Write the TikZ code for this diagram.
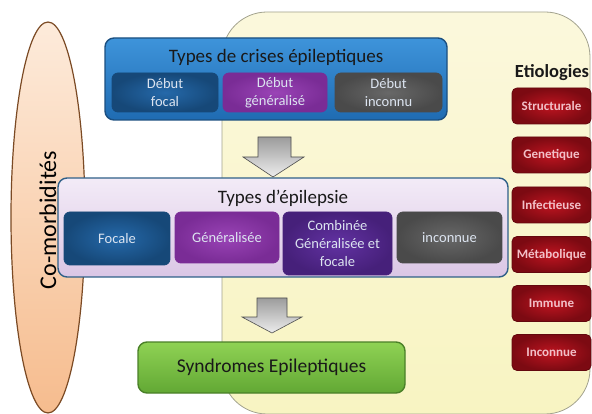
\documentclass[tikz,border=0pt]{standalone}
\usepackage{fontspec}
\setmainfont{Carlito}
\usetikzlibrary{shapes.geometric}
\definecolor{ybg}{HTML}{F8F4C2}
\definecolor{ybgtop}{HTML}{FBF8DC}
\definecolor{yborder}{HTML}{A2A28E}
\definecolor{peachtop}{HTML}{FDEBDB}
\definecolor{peachmid}{HTML}{F4AE78}
\definecolor{peachbot}{HTML}{F6BC8E}
\definecolor{brownb}{HTML}{7B4A24}
\definecolor{bluetop}{HTML}{3E94DA}
\definecolor{bluebot}{HTML}{1F6BB2}
\definecolor{blueborder}{HTML}{1B4F80}
\definecolor{lavtop}{HTML}{F3EBF7}
\definecolor{lavbot}{HTML}{DAC6E5}
\definecolor{lavborder}{HTML}{2F6088}
\definecolor{greentop}{HTML}{8FD254}
\definecolor{greenbot}{HTML}{62A834}
\definecolor{greenborder}{HTML}{4A8028}
\definecolor{dbluein}{HTML}{2569AA}
\definecolor{dblueout}{HTML}{164878}
\definecolor{purpin}{HTML}{9A44B6}
\definecolor{purpout}{HTML}{7A2C96}
\definecolor{dpurpin}{HTML}{6232A2}
\definecolor{dpurpout}{HTML}{46207A}
\definecolor{greyin}{HTML}{686868}
\definecolor{greyout}{HTML}{4A4A4A}
\definecolor{redin}{HTML}{BE1420}
\definecolor{redout}{HTML}{7C0A12}
\definecolor{subtext}{HTML}{DCE4F0}
\definecolor{etiotext}{HTML}{F2C0C8}
\definecolor{arrowtop}{HTML}{9C9C9C}
\definecolor{arrowbot}{HTML}{EDEDED}
\tikzset{
  bigbox/.style={rounded corners=9pt, line width=1.4pt, inner sep=0pt},
  subbox/.style 2 args={rounded corners=6pt, draw=#2, line width=0.8pt,
    inner color=#1, outer color=#2, text=subtext, align=center, inner sep=0pt,
    font=\fontsize{14.5}{18}\selectfont},
  etio/.style={rounded corners=5pt, draw=redout!80!black, line width=0.8pt,
    inner color=redin, outer color=redout, text=etiotext,
    minimum width=79pt, minimum height=36pt, inner sep=0pt,
    font=\bfseries\fontsize{13}{15}\selectfont},
  title/.style={text=black!90, font=\fontsize{19}{22}\selectfont, inner sep=0pt},
  blockarrow/.style={draw=gray!60!black, line width=0.6pt, top color=arrowtop, bottom color=arrowbot}
}
\begin{document}
\begin{tikzpicture}[x=1pt,y=-1pt]
\useasboundingbox (0,0) rectangle (592,414);
% yellow background region
\draw[yborder, line width=0.8pt, rounded corners=45pt, top color=ybgtop, bottom color=ybg]
  (222,12) rectangle (590,414);
% co-morbidites ellipse
\node[ellipse, draw=brownb, line width=1.2pt, top color=peachtop, middle color=peachmid,
  bottom color=peachbot, minimum width=74pt, minimum height=391pt, inner sep=0pt] (como) at (48,217.5) {};
\node[rotate=90, font=\fontsize{24}{28}\selectfont, text=black, inner sep=0pt] (comotxt) at (48,220) {Co-morbidités};
% seizure types
\node[bigbox, draw=blueborder, top color=bluetop, bottom color=bluebot,
  minimum width=342pt, minimum height=82pt] (crises) at (276,79) {};
\node[title] (crisestitle) at (276,57) {Types de crises épileptiques};
\node[subbox={dbluein}{dblueout}, minimum width=106pt, minimum height=39pt] (dfocal) at (165,92.5) {Début\\focal};
\node[subbox={purpin}{purpout}, minimum width=104pt, minimum height=39pt] (dgen) at (275,92.5) {Début\\généralisé};
\node[subbox={greyin}{greyout}, minimum width=107pt, minimum height=39pt] (dinc) at (388.5,92.5) {Début\\inconnu};
% arrow 1
\draw[blockarrow] (258,137) -- (291,137) -- (291,157) -- (304,157) -- (273,177) -- (243,157) -- (258,157) -- cycle;
% epilepsy types
\node[bigbox, draw=lavborder, top color=lavtop, bottom color=lavbot,
  minimum width=450pt, minimum height=99pt] (epi) at (283,227.5) {};
\node[title] (epititle) at (283,198) {Types d’épilepsie};
\node[subbox={dbluein}{dblueout}, minimum width=106pt, minimum height=53pt] (focale) at (117,238.5) {Focale};
\node[subbox={purpin}{purpout}, minimum width=104pt, minimum height=51pt] (gen) at (227,237.5) {Généralisée};
\node[subbox={dpurpin}{dpurpout}, minimum width=109pt, minimum height=63pt] (comb) at (337.5,243.5) {Combinée\\Généralisée et\\focale};
\node[subbox={greyin}{greyout}, minimum width=105pt, minimum height=51pt] (inc) at (449.5,237.5) {inconnue};
% arrow 2
\draw[blockarrow] (257,298) -- (287,298) -- (287,317) -- (302,317) -- (272,333) -- (242,317) -- (257,317) -- cycle;
% syndromes
\node[bigbox, draw=greenborder, top color=greentop, bottom color=greenbot,
  minimum width=267pt, minimum height=51pt, text=black!90, font=\fontsize{19.5}{22}\selectfont] (synd) at (271.5,367.5) {Syndromes Epileptiques};
% etiologies
\node[font=\bfseries\fontsize{18.5}{22}\selectfont, text=black!90, inner sep=0pt] (etiotitle) at (552,73) {Etiologies};
\node[etio] (e1) at (551.5,106) {Structurale};
\node[etio] (e2) at (551.5,155) {Genetique};
\node[etio] (e3) at (551.5,205) {Infectieuse};
\node[etio] (e4) at (551.5,254.5) {Métabolique};
\node[etio] (e5) at (551.5,303.5) {Immune};
\node[etio] (e6) at (551.5,352.5) {Inconnue};
\end{tikzpicture}
\end{document}
